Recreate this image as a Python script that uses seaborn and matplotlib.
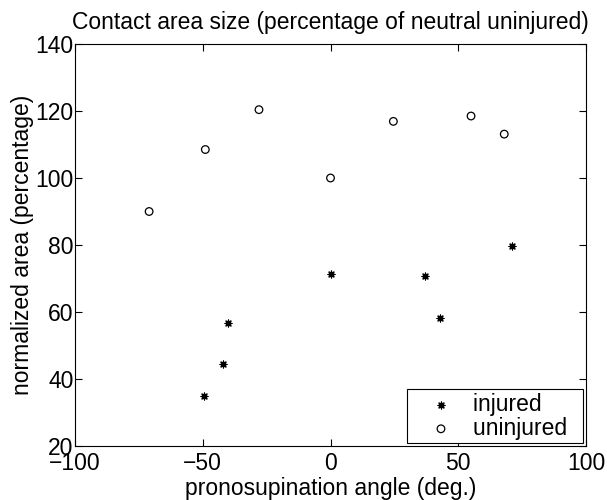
import pandas as pd
import seaborn as sns
import matplotlib
matplotlib.use('Agg')
import matplotlib.pyplot as plt

# pronosupination angle (deg.) and normalized contact area (%)
injured_angle = [-49.4, -42, -40, 0, 37, 43, 71]
injured_area = [35, 44.5, 56.8, 71.2, 70.6, 58.2, 79.6]

uninjured_angle = [-71, -49, -28, 0, 24.6, 55, 68]
uninjured_area = [90, 108.5, 120.4, 100, 116.9, 118.5, 113.1]

title_ = 'Contact area size (percentage of neutral uninjured)'
x_label = 'pronosupination angle (deg.)'
y_label = 'normalized area (percentage)'

sns.set_style('ticks')
plt.rcParams['font.family'] = ['Liberation Sans', 'DejaVu Sans']
plt.rcParams['xtick.direction'] = 'in'
plt.rcParams['ytick.direction'] = 'in'
plt.rcParams['xtick.top'] = True
plt.rcParams['ytick.right'] = True
for key in ('text.color', 'axes.labelcolor', 'xtick.color', 'ytick.color',
            'xtick.labelcolor', 'ytick.labelcolor'):
    plt.rcParams[key] = 'black'

fs = 16.5

fig = plt.figure(figsize=(6.07, 5.0), dpi=100)
ax_ = fig.add_axes([0.1236, 0.108, 0.8418, 0.804])

injured = pd.DataFrame({'angle': injured_angle, 'area': injured_area})
uninjured = pd.DataFrame({'angle': uninjured_angle, 'area': uninjured_area})

sns.scatterplot(
    data=injured, x='angle', y='area', ax=ax_,
    marker=(8, 2, 0), s=24, color='black', linewidth=0.9,
    label='injured  ',
)
sns.scatterplot(
    data=uninjured, x='angle', y='area', ax=ax_,
    marker='o', s=30, facecolor='none', edgecolor='black', linewidth=0.9,
    label='uninjured  ',
)

ax_.set_xlim(-100, 100)
ax_.set_ylim(20, 140)
ax_.set_xticks([-100, -50, 0, 50, 100])
ax_.set_yticks([20, 40, 60, 80, 100, 120, 140])
ax_.set_xticklabels(['\u2212100', '\u221250', '0', '50', '100'])
ax_.tick_params(labelsize=fs, length=5, width=0.8, color='black', pad=1)
ax_.tick_params(axis='x', pad=4)
for sp in ax_.spines.values():
    sp.set_color('black')
    sp.set_linewidth(0.8)

ax_.set_title(title_, fontsize=fs, pad=11)
ax_.set_xlabel(x_label, fontsize=fs, labelpad=2)
ax_.set_ylabel(y_label, fontsize=fs, labelpad=1)

leg = ax_.legend(
    loc='lower right', fontsize=fs, fancybox=False, framealpha=1,
    edgecolor='black', borderaxespad=0.12, handletextpad=0.06,
    borderpad=0.15, labelspacing=0.05, handlelength=2.67,
)
leg.get_frame().set_linewidth(0.8)

plt.savefig('out.png', dpi=100)
